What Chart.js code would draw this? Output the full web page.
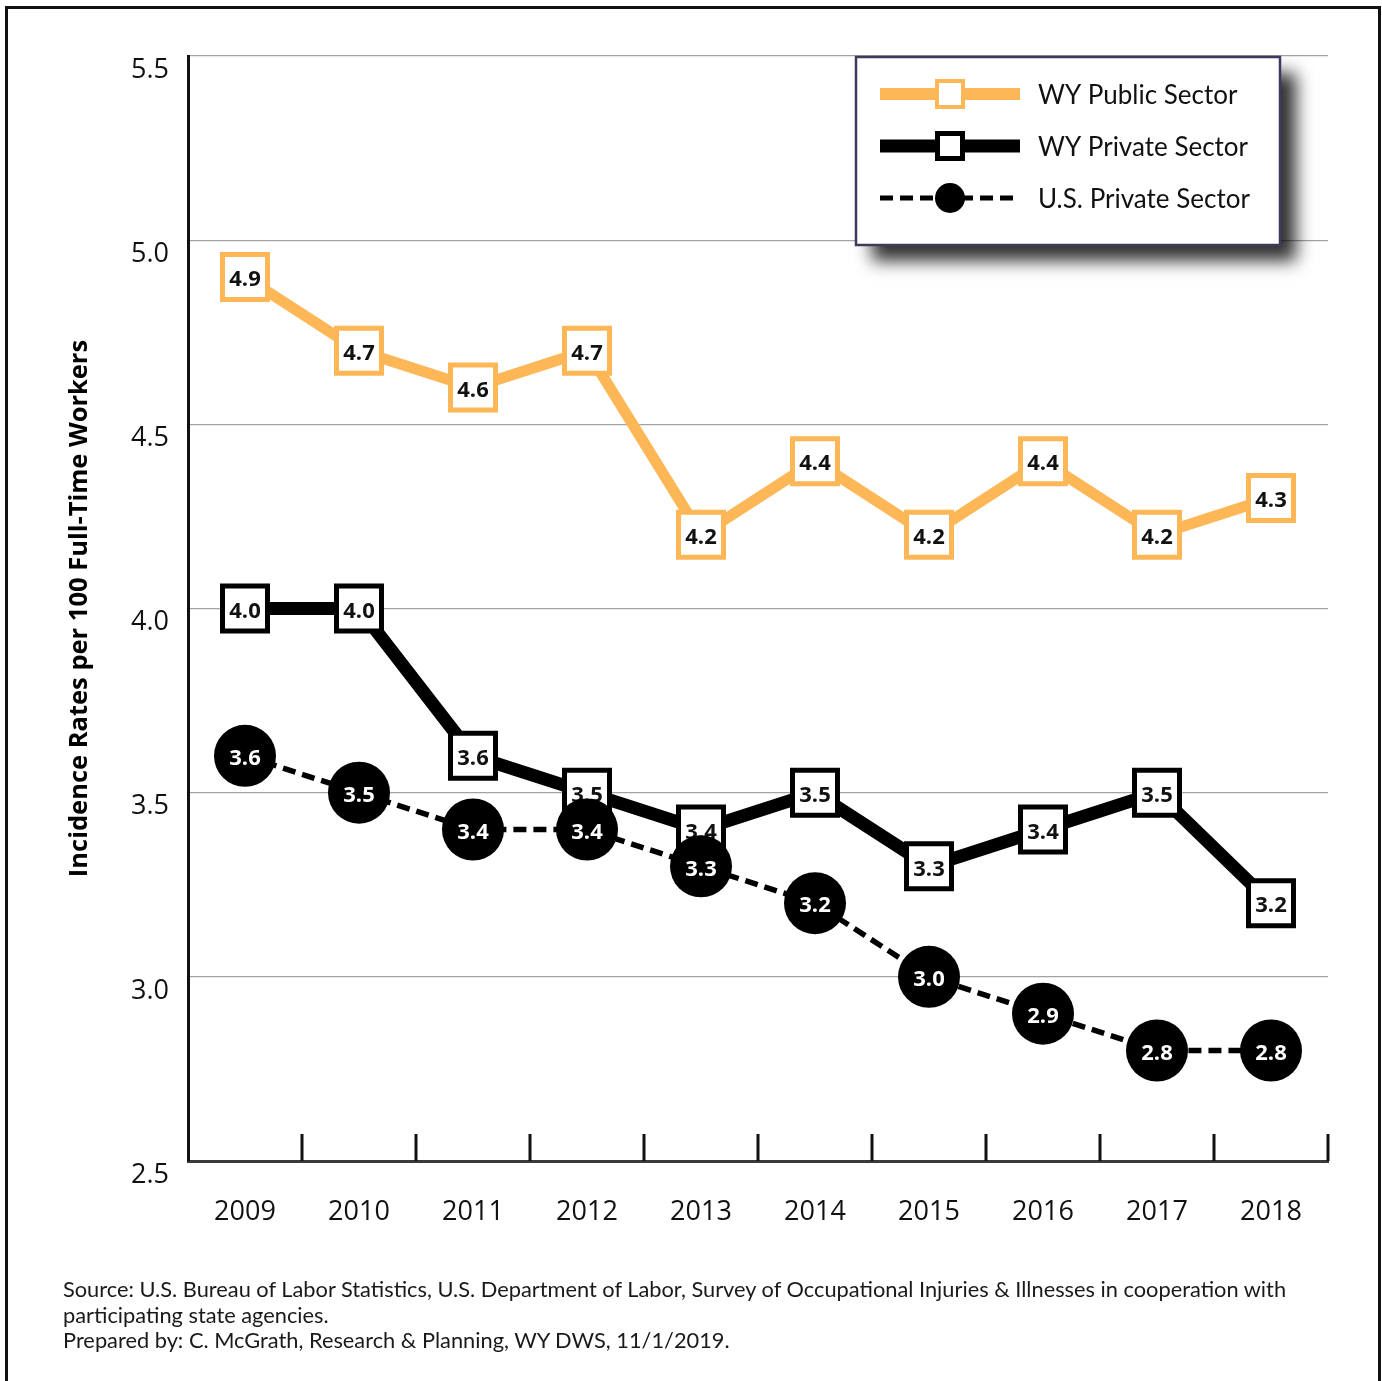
<!DOCTYPE html>
<html>
<head>
<meta charset="utf-8">
<script src="https://cdn.jsdelivr.net/npm/chart.js@4.4.1/dist/chart.umd.min.js"></script>
<style>
  html, body { margin: 0; padding: 0; background: #fff; }
  body { width: 1382px; height: 1381px; position: relative; overflow: hidden; }
  #frame { position: absolute; left: 5px; top: 6px; width: 1370px; height: 1420px; border: 3px solid #111; }
  #chart { position: absolute; left: 0; top: 0; }
  #source { position: absolute; left: 63px; top: 1276px; font-family: Lato, sans-serif; font-size: 21.8px;
            line-height: 25.5px; color: #1a1a1a; white-space: nowrap; }
</style>
</head>
<body>
<div id="frame"></div>
<canvas id="chart" width="1382" height="1381"></canvas>
<div id="source">
  Source: U.S. Bureau of Labor Statistics, U.S. Department of Labor, Survey of Occupational Injuries &amp; Illnesses in cooperation with<br>
  participating state agencies.<br>
  Prepared by: C. McGrath, Research &amp; Planning, WY DWS, 11/1/2019.
</div>
<script>
// data
const years = ['2009', '2010', '2011', '2012', '2013', '2014', '2015', '2016', '2017', '2018'];
const wyPublic = [4.9, 4.7, 4.6, 4.7, 4.2, 4.4, 4.2, 4.4, 4.2, 4.3];
const wyPrivate = [4.0, 4.0, 3.6, 3.5, 3.4, 3.5, 3.3, 3.4, 3.5, 3.2];
const usPrivate = [3.6, 3.5, 3.4, 3.4, 3.3, 3.2, 3.0, 2.9, 2.8, 2.8];
const yTicks = [2.5, 3.0, 3.5, 4.0, 4.5, 5.0, 5.5];
const seriesNames = ['WY Public Sector', 'WY Private Sector', 'U.S. Private Sector'];

const ORANGE = '#fdb757';
const FONT = "'Open Sans', sans-serif";

// value labels inside the markers, drawn right after each dataset so overlaps stack like the original
const pointLabels = {
  id: 'pointLabels',
  afterDatasetDraw(chart, args) {
    const ds = chart.data.datasets[args.index];
    const ctx = chart.ctx;
    ctx.save();
    ctx.font = 'bold 22px ' + FONT;
    ctx.fillStyle = ds.labelColor;
    ctx.textAlign = 'center';
    ctx.textBaseline = 'middle';
    args.meta.data.forEach((pt, i) => {
      ctx.fillText(ds.data[i].toFixed(1), pt.x, pt.y + 3);
    });
    ctx.restore();
  }
};

// short upward tick marks between the categories on the x axis
const axisTicks = {
  id: 'axisTicks',
  afterDraw(chart) {
    const xs = chart.scales.x;
    const ctx = chart.ctx;
    const step = xs.getPixelForValue(1) - xs.getPixelForValue(0);
    const bottom = chart.chartArea.bottom;
    ctx.save();
    ctx.strokeStyle = '#111';
    ctx.lineWidth = 3;
    for (let i = 0; i < years.length; i++) {
      const px = Math.round(xs.getPixelForValue(i) + step / 2);
      ctx.beginPath();
      ctx.moveTo(px, bottom - 27);
      ctx.lineTo(px, bottom);
      ctx.stroke();
    }
    ctx.restore();
  }
};

// boxed legend with drop shadow in the upper right
const legendBox = {
  id: 'legendBox',
  afterDraw(chart) {
    const ctx = chart.ctx;
    const bx = 856, by = 57, bw = 424, bh = 188;
    ctx.save();
    ctx.shadowColor = 'rgba(0,0,0,0.8)';
    ctx.shadowBlur = 16;
    ctx.shadowOffsetX = 16;
    ctx.shadowOffsetY = 16;
    ctx.fillStyle = '#fff';
    ctx.fillRect(bx, by, bw, bh);
    ctx.restore();

    ctx.save();
    ctx.strokeStyle = '#3d3a5c';
    ctx.lineWidth = 2.5;
    ctx.strokeRect(bx, by, bw, bh);

    const rows = [94, 146, 198];
    const x0 = 880, x1 = 1020, mx = 950;
    chart.data.datasets.slice().sort((a, b) => b.order - a.order).forEach((ds, k) => {
      const y = rows[k];
      ctx.beginPath();
      ctx.setLineDash(ds.borderDash || []);
      ctx.strokeStyle = ds.borderColor;
      ctx.lineWidth = ds.legendLine;
      ctx.moveTo(x0, y);
      ctx.lineTo(x1, y);
      ctx.stroke();
      ctx.setLineDash([]);
      if (ds.pointStyle === 'rect') {
        ctx.fillStyle = '#fff';
        ctx.strokeStyle = ds.pointBorderColor;
        ctx.lineWidth = ds.legendBorder;
        const s = 30 - ds.legendBorder;
        ctx.fillRect(mx - s / 2, y - s / 2, s, s);
        ctx.strokeRect(mx - s / 2, y - s / 2, s, s);
      } else {
        ctx.fillStyle = '#000';
        ctx.beginPath();
        ctx.arc(mx, y, 15, 0, Math.PI * 2);
        ctx.fill();
      }
      ctx.fillStyle = '#111';
      ctx.font = '26px Lato, sans-serif';
      ctx.textAlign = 'left';
      ctx.textBaseline = 'middle';
      ctx.fillText(ds.label, 1038, y + 2);
    });
    ctx.restore();
  }
};

new Chart(document.getElementById('chart'), {
  type: 'line',
  data: {
    labels: years,
    datasets: [
      {
        label: seriesNames[0],
        data: wyPublic,
        order: 3,
        borderColor: ORANGE,
        borderWidth: 11,
        legendLine: 12,
        legendBorder: 4,
        tension: 0,
        pointStyle: 'rect',
        pointRadius: 31.8,
        pointBackgroundColor: '#fff',
        pointBorderColor: ORANGE,
        pointBorderWidth: 5,
        labelColor: '#111'
      },
      {
        label: seriesNames[1],
        data: wyPrivate,
        order: 2,
        borderColor: '#000',
        borderWidth: 13,
        legendLine: 13,
        legendBorder: 5,
        tension: 0,
        pointStyle: 'rect',
        pointRadius: 31.8,
        pointBackgroundColor: '#fff',
        pointBorderColor: '#000',
        pointBorderWidth: 5,
        labelColor: '#111'
      },
      {
        label: seriesNames[2],
        data: usPrivate,
        order: 1,
        borderColor: '#000',
        borderWidth: 5.5,
        borderDash: [13, 7],
        legendLine: 5,
        tension: 0,
        pointStyle: 'circle',
        pointRadius: 31,
        pointBackgroundColor: '#000',
        pointBorderColor: '#000',
        pointBorderWidth: 0,
        labelColor: '#fff'
      }
    ]
  },
  options: {
    responsive: false,
    animation: false,
    layout: { padding: { top: 56, right: 54, left: 0, bottom: 0 } },
    plugins: {
      legend: { display: false },
      tooltip: { enabled: false }
    },
    scales: {
      x: {
        offset: true,
        grid: { display: false },
        border: { display: true, color: '#3a3a3a', width: 3 },
        ticks: { font: { family: FONT, size: 27 }, color: '#111', padding: 27 },
        afterFit(s) { s.height = 220; }
      },
      y: {
        min: 2.5,
        max: 5.5,
        afterBuildTicks(s) { s.ticks = yTicks.map(v => ({ value: v })); },
        grid: { color: '#a3a3a3', lineWidth: 1.3, drawTicks: false },
        border: { color: '#111', width: 3 },
        ticks: {
          font: { family: FONT, size: 27 },
          color: '#111',
          padding: 19,
          labelOffset: 14,
          callback: v => v.toFixed(1)
        },
        title: {
          display: true,
          text: 'Incidence Rates per 100 Full-Time Workers',
          font: { family: FONT, size: 25.5, weight: 'bold' },
          color: '#000',
          padding: { top: 64, bottom: 0 }
        },
        afterFit(s) { s.width = 188; }
      }
    }
  },
  plugins: [pointLabels, axisTicks, legendBox]
});
</script>
</body>
</html>
